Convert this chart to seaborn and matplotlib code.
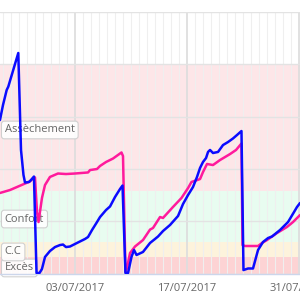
import numpy as np
import pandas as pd
import matplotlib
matplotlib.use("Agg")
import matplotlib.pyplot as plt
import matplotlib.dates as mdates
import seaborn as sns

# ---------------- data (days relative to 03/07/2017, values in chart units) -------------
ref_date = "2017-07-03"

blue_days = [-9.38, -9.0, -8.54, -8.34, -7.09, -6.75, -6.44, -6.25, -5.75, -5.5, -5.13,
             -4.81, -4.44, -4.13, -3.75, -3.13, -2.5, -1.88, -1.5, -1.13, -0.63, 0.25,
             1.25, 1.63, 2.13, 2.75, 3.13, 3.88, 4.38, 5.0, 5.63, 5.94, 6.31, 6.63,
             7.06, 7.38, 7.69, 8.5, 9.38, 10.0, 10.38, 11.0, 11.88, 12.88, 13.5, 14.13,
             14.75, 15.25, 15.63, 16.0, 16.38, 16.63, 16.88, 17.25, 17.88, 18.5, 19.13,
             19.75, 20.25, 20.81, 21.06, 21.63, 22.25, 22.88, 23.5, 24.13, 24.63, 25.63,
             26.63, 27.38, 27.75, 28.13]
blue_vals = [146.7, 161.1, 175.4, 178.6, 210.8, 118.1, 94.2, 87.0, 87.5, 89.4, 92.7,
             0.5, 0.5, 4.3, 15.8, 21.5, 25.3, 27.2, 27.7, 25.3, 25.8, 29.2,
             33.0, 34.9, 41.6, 49.2, 54.0, 60.7, 64.1, 73.1, 80.8, 84.1, 0.5, 0.5,
             15.8, 22.5, 17.7, 20.6, 29.2, 33.0, 35.4, 40.6, 46.4, 55.0, 66.4, 75.0,
             82.7, 92.3, 100.9, 106.6, 110.4, 116.2, 118.1, 115.2, 116.2, 122.8, 125.7,
             129.1, 132.4, 136.2, 3.3, 4.8, 4.8, 22.5, 30.1, 33.9, 35.4, 41.6,
             49.2, 58.8, 63.6, 67.4]

pink_days = [-9.38, -8.13, -7.25, -6.25, -5.63, -5.25, -5.0, -4.75, -4.56, -4.38, -4.13,
             -3.75, -3.13, -2.13, -1.13, 0.0, 1.63, 1.88, 2.75, 3.13, 3.88, 4.75, 5.81,
             6.0, 6.31, 6.5, 6.88, 7.5, 8.5, 9.38, 9.75, 10.63, 11.0, 12.25, 13.31,
             14.13, 14.56, 15.63, 16.0, 16.5, 17.25, 18.13, 19.38, 20.13, 20.81, 20.94,
             21.25, 22.88, 23.38, 24.0, 25.25, 26.5, 27.25, 28.13]
pink_vals = [77.0, 79.8, 82.7, 86.0, 88.0, 90.8, 91.8, 58.8, 49.2, 58.8, 72.2,
             84.6, 92.3, 95.6, 95.1, 95.6, 96.6, 98.9, 99.9, 102.8, 106.6, 109.9, 115.7,
             112.3, 1.4, 5.3, 19.6, 25.8, 32.0, 42.0, 43.5, 54.0, 53.1, 63.6, 72.2,
             81.7, 87.5, 90.3, 97.0, 104.7, 103.7, 108.5, 114.2, 118.1, 124.3, 27.2,
             26.3, 26.3, 29.2, 32.0, 38.7, 44.5, 49.2, 55.9]

band_names = ["Excès", "C.C", "Confort", "Assèchement"]
band_low = [0, 15.8, 30, 79]
band_high = [15.8, 30, 79, 200]
band_colors = ["#fdd3d4", "#fdf3dc", "#e8fcf0", "#fde6e8"]
label_vals = [5.3, 20.6, 52.1, 137.2]

x_start_days = -9.375
x_end_days = 28.125
y_max = 250

# ---------------- build frames -------------
ref = pd.Timestamp(ref_date)
df_blue = pd.DataFrame({"date": ref + pd.to_timedelta(blue_days, unit="D"), "val": blue_vals})
df_pink = pd.DataFrame({"date": ref + pd.to_timedelta(pink_days, unit="D"), "val": pink_vals})

sns.set_style("white")
plt.rcParams["font.family"] = ["Open Sans", "DejaVu Sans"]

fig = plt.figure(figsize=(3, 3), dpi=100)
ax = fig.add_axes([0, 0.0883, 1, 0.8717])

for lo, hi, c in zip(band_low, band_high, band_colors):
    ax.axhspan(lo, hi, color=c, zorder=0.2, lw=0)

sns.lineplot(data=df_pink, x="date", y="val", ax=ax, color="#ff1a9c", lw=1.8,
             sort=False, estimator=None, zorder=3)
sns.lineplot(data=df_blue, x="date", y="val", ax=ax, color="#0b0bff", lw=1.8,
             sort=False, estimator=None, zorder=4)

ax.set_xlim(ref + pd.Timedelta(days=x_start_days), ref + pd.Timedelta(days=x_end_days))
ax.set_ylim(0, y_max)
ax.set_xlabel("")
ax.set_ylabel("")

ax.xaxis.set_major_locator(mdates.DayLocator(bymonthday=[3, 17, 31]))
ax.xaxis.set_minor_locator(mdates.DayLocator())
ax.xaxis.set_major_formatter(mdates.DateFormatter("%d/%m/%Y"))
ax.set_yticks(np.arange(0, y_max + 1, 50))

ax.set_axisbelow(True)
ax.grid(which="minor", axis="x", color="#efefef", lw=0.8)
ax.grid(which="major", axis="x", color="#dedede", lw=1.3)
ax.grid(which="major", axis="y", color="#e3e3e3", lw=1.0)

ax.tick_params(axis="y", left=False, labelleft=False)
ax.tick_params(axis="x", which="major", length=6, width=1, color="#ccd6eb",
               labelsize=8, labelcolor="#666666", pad=0.5)
ax.tick_params(axis="x", which="minor", length=0)

for s in ["top", "left", "right"]:
    ax.spines[s].set_visible(False)
ax.spines["bottom"].set_color("#ccd6eb")
ax.spines["bottom"].set_linewidth(1)

for name, yv in zip(band_names, label_vals):
    ax.text(0.016, yv, name, transform=ax.get_yaxis_transform(), ha="left", va="center",
            fontsize=8, color="#666666", zorder=2,
            bbox=dict(boxstyle="round,pad=0.3,rounding_size=0.25", fc="white",
                      ec="#cccccc", lw=0.8, alpha=0.9))

fig.savefig("out.png", dpi=100)
